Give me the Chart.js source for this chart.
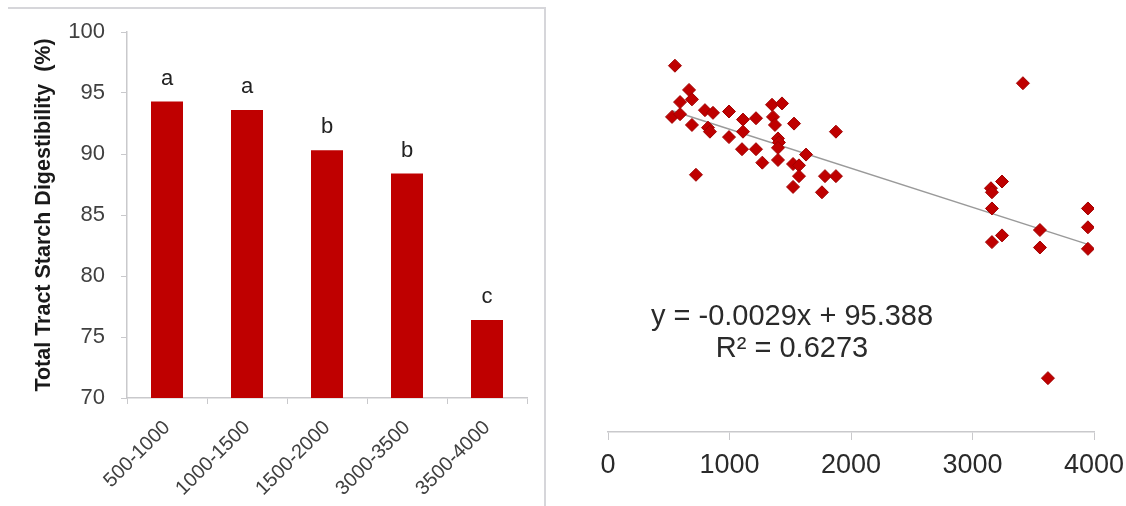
<!DOCTYPE html>
<html>
<head>
<meta charset="utf-8">
<script src="https://cdn.jsdelivr.net/npm/chart.js@4.4.1/dist/chart.umd.min.js"></script>
<style>
  html, body { margin: 0; padding: 0; background: #ffffff; }
  body { width: 1126px; height: 506px; position: relative; overflow: hidden; }
  #frame { position: absolute; left: 8px; top: 7px; width: 536px; height: 520px;
           border-top: 2px solid #d6d6da; border-right: 2px solid #d6d6da; }
  #c1 { position: absolute; left: 0; top: 0; }
  #c2 { position: absolute; left: 550px; top: 0; }
</style>
</head>
<body>
<div id="frame"></div>
<canvas id="c1" width="550" height="506"></canvas>
<canvas id="c2" width="576" height="506"></canvas>
<script>
// ---------- data: left bar chart ----------
const barCategories = ['500-1000', '1000-1500', '1500-2000', '3000-3500', '3500-4000'];
const barValues = [94.3, 93.6, 90.3, 88.4, 76.4];
const barLetters = ['a', 'a', 'b', 'b', 'c'];
const barAxisMin = 70;
const barAxisMax = 100;
const barAxisStep = 5;
const barAxisTitle = 'Total Tract Starch Digestibility  (%)';

// ---------- data: right scatter chart ----------
const scatterX = [551, 667, 593, 691, 527, 593, 691, 798, 864, 823, 839, 996, 996, 1111, 1111, 1218,
                  1103, 1218, 724, 1270, 1350, 1432, 1358, 1374, 1531, 1399, 1407, 1399, 1399, 1876,
                  1630, 1523, 1572, 1572, 1523, 1786, 1876, 1761, 3415, 3243, 3152, 3160, 3160, 3243,
                  3160, 3555, 3555, 3950, 3950, 3950, 3621];
const scatterY = [97.2, 95.4, 94.5, 94.7, 93.4, 93.6, 92.8, 93.9, 93.7, 92.6, 92.3, 93.8, 91.9, 93.2, 92.3, 93.3,
                  91.0, 91.0, 89.1, 90.0, 94.3, 94.4, 93.4, 92.8, 92.9, 91.8, 91.5, 91.1, 90.2, 92.3,
                  90.6, 89.9, 89.8, 89.0, 88.2, 89.0, 89.0, 87.8, 95.9, 88.6, 88.1, 87.8, 86.6, 84.6,
                  84.1, 85.0, 83.7, 86.6, 85.2, 83.6, 74.0];
const scatterXTicks = [0, 1000, 2000, 3000, 4000];
const trendSlope = -0.0029;
const trendIntercept = 95.388;
const trendR2 = '0.6273';
const scatterYMin = 70;
const scatterYMax = 100;

const FONT = "'Liberation Sans', Arial, sans-serif";
const RED = '#bf0000';
const AXIS = '#c9c9cc';

// ---------- left chart ----------
const letterPlugin = {
  id: 'letters',
  afterDatasetsDraw(chart) {
    const ctx = chart.ctx;
    const meta = chart.getDatasetMeta(0);
    ctx.save();
    ctx.font = '22px ' + FONT;
    ctx.fillStyle = '#222222';
    ctx.textAlign = 'center';
    ctx.textBaseline = 'alphabetic';
    meta.data.forEach((bar, i) => {
      ctx.fillText(barLetters[i], bar.x, bar.y - 17);
    });
    ctx.restore();
  }
};

new Chart(document.getElementById('c1'), {
  type: 'bar',
  data: {
    labels: barCategories,
    datasets: [{
      data: barValues,
      backgroundColor: RED,
      borderWidth: 0,
      barPercentage: 0.4,
      categoryPercentage: 1.0
    }]
  },
  options: {
    responsive: false,
    animation: false,
    events: [],
    layout: { padding: { left: 0, top: 32, right: 23, bottom: 0 } },
    plugins: { legend: { display: false }, tooltip: { enabled: false } },
    scales: {
      x: {
        grid: { display: true, drawOnChartArea: false, drawTicks: true, tickLength: 6, color: AXIS, offset: true },
        border: { display: true, color: AXIS, width: 1.5 },
        ticks: { font: { family: FONT, size: 20 }, color: '#404040', minRotation: 45, maxRotation: 45, padding: 12, autoSkip: false },
        afterFit(s) { s.height = 108; s.paddingLeft = 0; s.paddingRight = 0; }
      },
      y: {
        min: barAxisMin, max: barAxisMax,
        ticks: { stepSize: barAxisStep, font: { family: FONT, size: 22 }, color: '#404040', padding: 16 },
        grid: { display: true, drawOnChartArea: false, drawTicks: true, tickLength: 6, color: AXIS },
        border: { display: true, color: AXIS, width: 1.5 },
        title: {
          display: true, text: barAxisTitle,
          font: { family: FONT, size: 21.5, weight: 'bold' }, color: '#1a1a1a',
          padding: { top: 31, bottom: 0 }
        },
        afterFit(s) { s.width = 127; s.paddingTop = 0; s.paddingBottom = 0; }
      }
    }
  },
  plugins: [letterPlugin]
});

// ---------- right chart ----------
const xMinData = Math.min(...scatterX);
const xMaxData = Math.max(...scatterX);
const trendPoints = [xMinData, xMaxData].map(x => ({ x: x, y: trendSlope * x + trendIntercept }));

const eqPlugin = {
  id: 'equation',
  afterDraw(chart) {
    const ctx = chart.ctx;
    ctx.save();
    ctx.font = '29px ' + FONT;
    ctx.fillStyle = '#2a2a2a';
    ctx.textAlign = 'center';
    ctx.textBaseline = 'middle';
    const cx = 242;
    ctx.fillText('y = ' + trendSlope.toFixed(4) + 'x + ' + trendIntercept.toFixed(3), cx, 317);
    ctx.fillText('R\u00B2 = ' + trendR2, cx, 349);
    ctx.restore();
  }
};

new Chart(document.getElementById('c2'), {
  type: 'scatter',
  data: {
    datasets: [
      {
        type: 'line',
        data: trendPoints,
        borderColor: '#9a9a9a',
        borderWidth: 1.5,
        pointRadius: 0,
        fill: false,
        order: 2
      },
      {
        data: scatterX.map((x, i) => ({ x: x, y: scatterY[i] })),
        pointStyle: 'rectRot',
        pointRadius: 6.5,
        backgroundColor: RED,
        borderColor: '#a00000',
        borderWidth: 1,
        order: 1
      }
    ]
  },
  options: {
    responsive: false,
    animation: false,
    events: [],
    layout: { padding: { left: 58, top: 28, right: 32, bottom: 0 } },
    plugins: { legend: { display: false }, tooltip: { enabled: false } },
    scales: {
      x: {
        type: 'linear',
        min: scatterXTicks[0], max: scatterXTicks[scatterXTicks.length - 1],
        afterBuildTicks(s) { s.ticks = scatterXTicks.map(v => ({ value: v })); },
        ticks: { font: { family: FONT, size: 27 }, color: '#2a2a2a', padding: 9, callback: v => String(v) },
        grid: { display: true, drawOnChartArea: false, drawTicks: true, tickLength: 8, color: AXIS },
        border: { display: true, color: AXIS, width: 1.5 },
        afterFit(s) { s.height = 74; s.paddingLeft = 0; s.paddingRight = 0; }
      },
      y: {
        display: false,
        min: scatterYMin, max: scatterYMax
      }
    }
  },
  plugins: [eqPlugin]
});
</script>
</body>
</html>
